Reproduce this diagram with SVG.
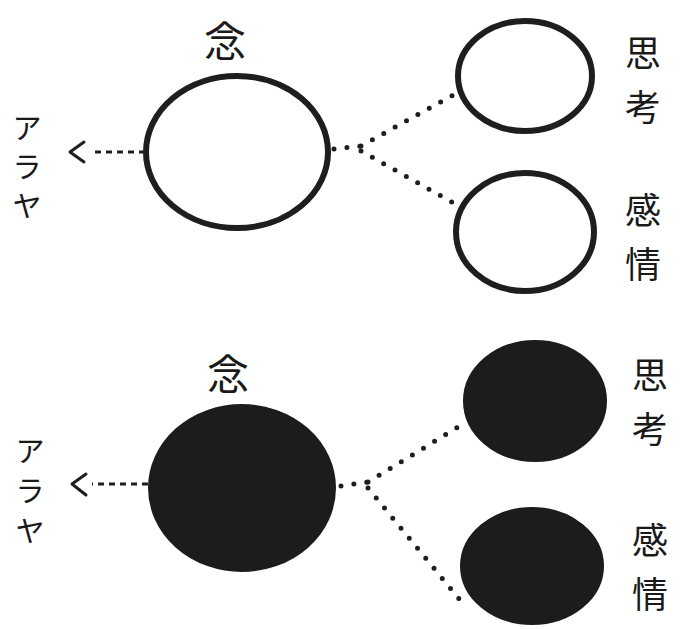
<svg xmlns="http://www.w3.org/2000/svg" width="683" height="629" viewBox="0 0 683 629">
<style>
.lbl{font-family:"Noto Sans CJK JP","Noto Sans CJK SC",sans-serif;fill:#1a1a1a;text-anchor:middle}
.big{font-size:42px}
.mid{font-size:36px}
.kana{font-size:29px}
.ring{fill:none;stroke:#1e1e1e;stroke-width:6}
.solid{fill:#1c1c1c;stroke:#1c1c1c;stroke-width:2}
.dots{fill:none;stroke:#1e1e1e;stroke-width:5;stroke-linecap:round;stroke-dasharray:0 13}
.dash{fill:none;stroke:#1e1e1e;stroke-width:3;stroke-dasharray:6 5}
.head{fill:none;stroke:#1e1e1e;stroke-width:3;stroke-linecap:round;stroke-linejoin:round}
</style>
<rect width="683" height="629" fill="#ffffff"/>
<g id="top-nen">
<text class="lbl big" x="225" y="57">念</text>
<ellipse class="ring" cx="237" cy="152" rx="91" ry="76"/>
</g>
<g id="top-shikou">
<ellipse class="ring" cx="525" cy="76" rx="67" ry="55"/>
<text class="lbl mid" x="643" y="67">思</text>
<text class="lbl mid" x="643" y="121">考</text>
</g>
<g id="top-kanjou">
<ellipse class="ring" cx="525" cy="232" rx="69" ry="59"/>
<text class="lbl mid" x="643" y="224">感</text>
<text class="lbl mid" x="643" y="278">情</text>
</g>
<g id="top-araya">
<text class="lbl kana" x="27" y="139">ア</text>
<text class="lbl kana" x="27" y="178">ラ</text>
<text class="lbl kana" x="27" y="217">ヤ</text>
</g>
<g id="bottom-nen">
<text class="lbl big" x="228" y="390">念</text>
<ellipse class="solid" cx="242" cy="488" rx="93" ry="83"/>
</g>
<g id="bottom-shikou">
<ellipse class="solid" cx="535" cy="401" rx="71" ry="60"/>
<text class="lbl mid" x="650" y="389">思</text>
<text class="lbl mid" x="650" y="443">考</text>
</g>
<g id="bottom-kanjou">
<ellipse class="solid" cx="532" cy="566" rx="71" ry="58"/>
<text class="lbl mid" x="650" y="554">感</text>
<text class="lbl mid" x="650" y="608">情</text>
</g>
<g id="bottom-araya">
<text class="lbl kana" x="30" y="462">ア</text>
<text class="lbl kana" x="30" y="502">ラ</text>
<text class="lbl kana" x="30" y="542">ヤ</text>
</g>
<g id="connectors">
<path class="dash" d="M145 152 H90"/>
<path class="head" d="M84 142 L70 152 L84 162"/>
<path class="dots" d="M334 149 L361 146"/>
<path class="dots" d="M361 146 L455 94"/>
<path class="dots" d="M361 151 L457 205"/>
<path class="dash" d="M148 484 H92"/>
<path class="head" d="M86 474 L72 484 L86 495"/>
<path class="dots" d="M341 486 L368 482"/>
<path class="dots" d="M368 482 L463 424"/>
<path class="dots" d="M368 488 L460 600"/>
</g>
</svg>
